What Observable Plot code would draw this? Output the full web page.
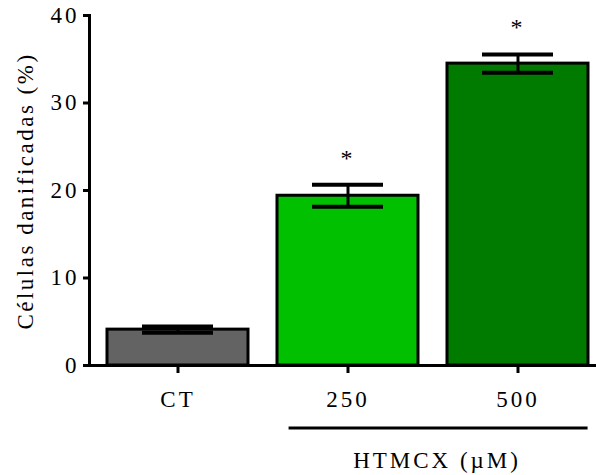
<!DOCTYPE html>
<html>
<head>
<meta charset="utf-8">
<script src="https://cdn.jsdelivr.net/npm/d3@7"></script>
<script src="https://cdn.jsdelivr.net/npm/@observablehq/plot@0.6"></script>
<style>
  html, body { margin: 0; padding: 0; background: #fff; }
</style>
</head>
<body>
<div id="chart"></div>
<script>
const groups = ["CT", "250", "500"];
const means = [4.1, 19.4, 34.5];
const sems = [0.35, 1.25, 1.05];
const significant = [false, true, true];
const colors = ["#636363", "#00c000", "#007b00"];
const yTicks = [0, 10, 20, 30, 40];
const yLabel = "Células danificadas (%)";
const groupLabel = "HTMCX (µM)";
const groupMembers = ["250", "500"];

const SERIF = "'Liberation Serif', 'DejaVu Serif', serif";
const FS = 23;

const data = groups.map((g, i) => ({group: g, mean: means[i], sem: sems[i], sig: significant[i], color: colors[i]}));

const chart = Plot.plot({
  width: 596,
  height: 475,
  marginLeft: 89,
  marginRight: 0,
  marginTop: 15,
  marginBottom: 110,
  style: {fontSize: FS + "px", fontFamily: SERIF, color: "#000", background: "#fff"},
  x: {domain: groups, range: [89, 606], paddingInner: 0.16, paddingOuter: 0.096, label: null},
  y: {domain: [0, 40], range: [365, 15], label: null},
  marks: [
    Plot.barY(data, {x: "group", y: "mean", fill: "color", stroke: "#000", strokeWidth: 3, insetLeft: 1, insetRight: 1}),
    Plot.ruleX(data, {x: "group", y1: d => d.mean - d.sem, y2: d => d.mean + d.sem, stroke: "#000", strokeWidth: 3}),
    Plot.tickY(data, {x: "group", y: d => d.mean + d.sem, stroke: "#000", strokeWidth: 4, insetLeft: 36, insetRight: 36}),
    Plot.tickY(data, {x: "group", y: d => d.mean - d.sem, stroke: "#000", strokeWidth: 4, insetLeft: 36, insetRight: 36}),
    Plot.text(data.filter(d => d.sig), {x: "group", y: d => d.mean + d.sem, text: () => "*", dy: -27, fontSize: 24, fontFamily: SERIF}),
    Plot.frame({anchor: "left", stroke: "#000", strokeWidth: 3}),
    Plot.ruleY([0], {stroke: "#000", strokeWidth: 3}),
    Plot.axisY({ticks: yTicks, tickSize: 6, tickPadding: 4, strokeWidth: 3, fontSize: FS, fontFamily: SERIF, label: null}),
    Plot.axisX({tickSize: 8, tickPadding: 17, strokeWidth: 3, fontSize: FS, fontFamily: SERIF, label: null})
  ]
});

document.getElementById("chart").appendChild(chart);

const svg = d3.select(chart);
svg.selectAll("text")
  .style("font-family", SERIF)
  .style("letter-spacing", "3px");

const sy = chart.scale("y");
// y-axis title, centred on the y range
svg.append("text")
  .attr("transform", `translate(33,${(sy.apply(0) + sy.apply(40)) / 2 + 1}) rotate(-90)`)
  .attr("text-anchor", "middle")
  .attr("font-size", FS).attr("fill", "#000")
  .style("font-family", SERIF).style("letter-spacing", "2.5px")
  .text(yLabel);

// Group bracket under the 250 and 500 categories
const sx = chart.scale("x");
const bw = sx.bandwidth;
const x1 = sx.apply(groupMembers[0]) + bw * 0.088;
const x2 = sx.apply(groupMembers[groupMembers.length - 1]) + bw * 0.99;
svg.append("line")
  .attr("x1", x1).attr("x2", x2)
  .attr("y1", 428).attr("y2", 428)
  .attr("stroke", "#000").attr("stroke-width", 3);
svg.append("text")
  .attr("x", (x1 + x2) / 2 - 1).attr("y", 468)
  .attr("text-anchor", "middle")
  .attr("font-size", FS).attr("fill", "#000")
  .style("font-family", SERIF).style("letter-spacing", "3px")
  .text(groupLabel);
</script>
</body>
</html>
